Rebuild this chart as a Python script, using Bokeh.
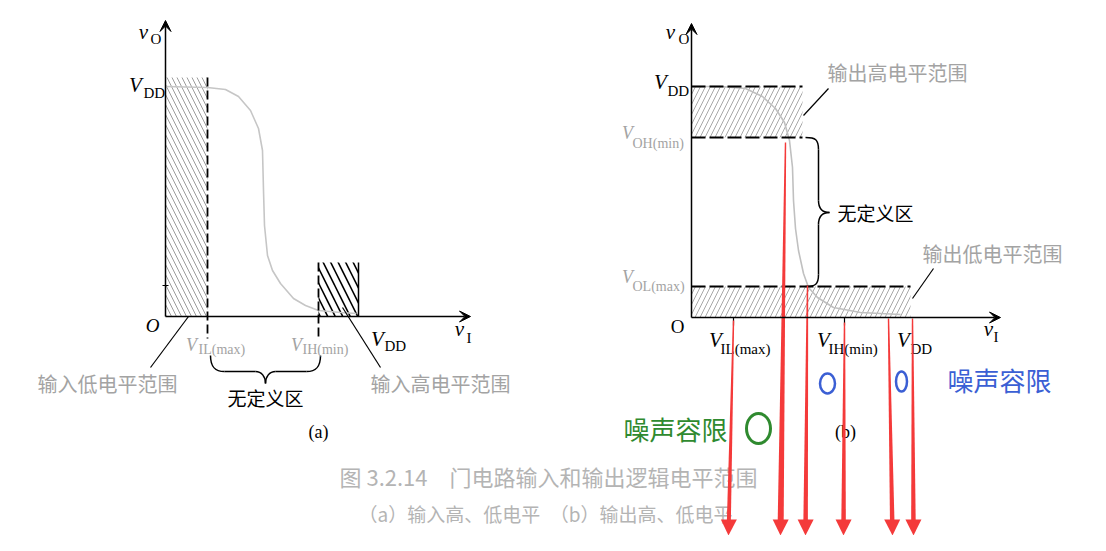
from bokeh.plotting import figure
from bokeh.models import Range1d, Arrow, VeeHead, ColumnDataSource
from bokeh.core.properties import value
from bokeh.embed import file_html
from bokeh.resources import INLINE

# ---------------- diagram data (diagram units, y grows downward) ----------------
# Panel (a): input levels
a_origin_x, a_origin_y = 165, 316
a_xaxis_end, a_yaxis_end = 470, 20
a_vdd_y = 86
a_vil_x, a_vih_x, a_vdd_x = 207, 318, 358
a_hatch_top, a_high_top, a_dash_bottom = 77, 262, 338
a_curve_x = [165, 207, 225, 238, 250, 258, 262, 263, 264, 267, 272, 280, 293, 305, 318, 340, 356]
a_curve_y = [86, 87, 89, 96, 110, 128, 150, 190, 225, 255, 270, 283, 298, 305, 310, 312, 313]
a_brace_left, a_brace_right, a_brace_top, a_brace_mid, a_brace_tip = 210, 320, 355, 371, 383
a_pointer_x0 = [188, 342]
a_pointer_y0 = [316, 307]
a_pointer_x1 = [150, 380]
a_pointer_y1 = [367, 367]

# Panel (b): output levels
b_origin_x, b_origin_y = 691, 317
b_xaxis_end, b_yaxis_end = 1000, 23
b_vdd_y, b_voh_y, b_vol_y = 86, 137, 286
b_high_right, b_low_right = 802, 910
b_ticks_x = [733, 844]
b_curve_x = [691, 720, 745, 762, 775, 784, 789, 792, 793, 795, 798, 803, 808, 817, 833, 860, 900]
b_curve_y = [86, 86, 88, 96, 108, 122, 140, 167, 200, 228, 250, 273, 287, 297, 307, 312, 314]
b_brace_left, b_brace_x, b_brace_tip_x, b_brace_tip_y = 805, 818, 829, 212
b_pointer_x0 = [828, 933]
b_pointer_y0 = [88, 268]
b_pointer_x1 = [803, 912]
b_pointer_y1 = [115, 298]

# Red annotation arrows
red_top_x = [733, 785, 807, 844, 888, 912]
red_top_y = [320, 142, 285, 322, 318, 318]
red_tip_x = [728, 780, 805, 843, 892, 913]
red_tip_y = [535, 535, 535, 535, 535, 535]
red_width = [4.0, 6.0, 4.5, 4.5, 4.5, 4.5]

# Marks drawn by hand (ellipses)
blue_ell_x = [827, 901]
blue_ell_y = [383, 381]
blue_ell_w = [15, 11]
blue_ell_h = [20, 20]
green_ell_x = [758]
green_ell_y = [428]
green_ell_w = [24]
green_ell_h = [30]

GRAY = "#a3a3a3"
SERIF = "Liberation Serif"
CJK = "Noto Sans CJK SC"

p = figure(width=1090, height=535, output_backend="svg", toolbar_location=None,
           x_range=Range1d(0, 1090), y_range=Range1d(535, 0),
           x_axis_type=None, y_axis_type=None, min_border=0,
           outline_line_color=None, background_fill_color="white",
           border_fill_color="white")
p.grid.visible = False


def txt(xs, ys, texts, size, font=SERIF, style="normal", color="black", align="center"):
    src = ColumnDataSource(dict(x=xs, y=ys, t=texts))
    p.text(x="x", y="y", text="t", source=src, text_font=value(font),
           text_font_size=value(size), text_font_style=style, text_color=color,
           text_align=align, text_baseline="middle")


def arrow(x0, y0, x1, y1):
    p.add_layout(Arrow(x_start=x0, y_start=y0, x_end=x1, y_end=y1, line_width=1.5,
                       line_color="black",
                       end=VeeHead(size=11, line_color="black", fill_color="black",
                                   line_width=1)))

# ---------------- panel (a) ----------------
p.quad(left=[a_origin_x], right=[a_vil_x], top=[a_hatch_top], bottom=[a_origin_y],
       fill_alpha=0, line_color=None, hatch_pattern="\\", hatch_scale=10,
       hatch_color="#9c9c9c", hatch_weight=1)
p.quad(left=[a_vih_x], right=[a_vdd_x], top=[a_high_top], bottom=[a_origin_y],
       fill_alpha=0, line_color=None, hatch_pattern="\\", hatch_scale=15,
       hatch_color="black", hatch_weight=1.6)
p.segment(x0=[a_vdd_x], y0=[a_high_top], x1=[a_vdd_x], y1=[a_origin_y],
          line_color="black", line_width=1.5)
p.line(a_curve_x, a_curve_y, line_color="#c6c6c6", line_width=1.6)
p.segment(x0=[a_vil_x, a_vih_x], y0=[a_hatch_top, a_high_top],
          x1=[a_vil_x, a_vih_x], y1=[a_dash_bottom, a_dash_bottom],
          line_color="black", line_width=1.8, line_dash="9 4")
p.segment(x0=[a_origin_x - 3], y0=[285], x1=[a_origin_x + 3], y1=[285],
          line_color="black", line_width=1)
arrow(a_origin_x, a_origin_y, a_origin_x, a_yaxis_end)
arrow(a_origin_x, a_origin_y, a_xaxis_end, a_origin_y)
p.segment(x0=a_pointer_x0, y0=a_pointer_y0, x1=a_pointer_x1, y1=a_pointer_y1,
          line_color="black", line_width=1.2)
# horizontal brace
L, R, T, M, K = a_brace_left, a_brace_right, a_brace_top, a_brace_mid, a_brace_tip
C = (L + R) / 2
p.bezier(x0=[L, C - 10, C, R - 14], y0=[T, M, K, M],
         x1=[L + 14, C, C + 10, R], y1=[M, K, M, T],
         cx0=[L, C - 4, C, R - 4], cy0=[T + 11, M, K - 7, M],
         cx1=[L + 4, C, C + 4, R], cy1=[M, K - 7, M, T + 11],
         line_color="black", line_width=1.5)
p.segment(x0=[L + 14, C + 10], y0=[M, M], x1=[C - 10, R - 14], y1=[M, M],
          line_color="black", line_width=1.5)

# ---------------- panel (b) ----------------
p.quad(left=[b_origin_x], right=[b_high_right], top=[b_vdd_y], bottom=[b_voh_y],
       fill_alpha=0, line_color=None, hatch_pattern="/", hatch_scale=10,
       hatch_color="#a8a8a8", hatch_weight=1)
p.quad(left=[b_origin_x], right=[b_low_right], top=[b_vol_y], bottom=[b_origin_y],
       fill_alpha=0, line_color=None, hatch_pattern="/", hatch_scale=10,
       hatch_color="#a8a8a8", hatch_weight=1)
p.line(b_curve_x, b_curve_y, line_color="#c0c0c0", line_width=1.6)
p.segment(x0=[b_origin_x] * 3, y0=[b_vdd_y, b_voh_y, b_vol_y],
          x1=[b_high_right, b_high_right, b_low_right], y1=[b_vdd_y, b_voh_y, b_vol_y],
          line_color="black", line_width=1.8, line_dash="14 4")
p.segment(x0=b_ticks_x, y0=[b_origin_y] * 2, x1=b_ticks_x, y1=[b_origin_y + 8] * 2,
          line_color="black", line_width=1.2)
arrow(b_origin_x, b_origin_y, b_origin_x, b_yaxis_end)
arrow(b_origin_x, b_origin_y, b_xaxis_end, b_origin_y)
p.segment(x0=b_pointer_x0, y0=b_pointer_y0, x1=b_pointer_x1, y1=b_pointer_y1,
          line_color="black", line_width=1.2)
# vertical brace
BL, BX, TX, TY = b_brace_left, b_brace_x, b_brace_tip_x, b_brace_tip_y
p.bezier(x0=[BL, BX, TX, BX], y0=[b_voh_y, TY - 12, TY, b_vol_y - 12],
         x1=[BX, TX, BX, BL], y1=[b_voh_y + 12, TY, TY + 12, b_vol_y],
         cx0=[BL + 10, BX, TX - 7, BX], cy0=[b_voh_y, TY - 4, TY, b_vol_y - 2],
         cx1=[BX, TX - 7, BX, BL + 10], cy1=[b_voh_y + 2, TY, TY + 4, b_vol_y],
         line_color="black", line_width=1.5)
p.segment(x0=[BX, BX], y0=[b_voh_y + 12, TY + 12], x1=[BX, BX], y1=[TY - 12, b_vol_y - 12],
          line_color="black", line_width=1.5)

# ---------------- texts ----------------
# italic main letters (black)
txt([143, 135, 459, 377, 670, 660, 988, 715, 823, 903],
    [31, 84, 328, 338, 31, 81, 328, 339, 339, 339],
    ["v", "V", "v", "V", "v", "V", "v", "V", "V", "V"], "21px", style="italic")
txt([152], [325], ["O"], "19px", style="italic")
txt([677], [326], ["O"], "19px")
# gray italic V
txt([191, 296, 627, 627], [344, 344, 132, 276], ["V", "V", "V", "V"], "18px",
    style="italic", color=GRAY)
# subscripts (black)
txt([150, 143, 466, 384, 678, 667, 993, 720, 828, 910],
    [38, 92, 337, 345, 38, 90, 336, 348, 348, 348],
    ["O", "DD", "I", "DD", "O", "DD", "I", "IL(max)", "IH(min)", "DD"],
    "15px", align="left")
# subscripts (gray)
txt([198, 302, 632, 632], [349, 349, 143, 286], ["IL(max)", "IH(min)", "OH(min)", "OL(max)"],
    "14px", align="left", color=GRAY)
# panel captions
txt([318, 845], [431, 431], ["(a)", "(b)"], "18px")
# Chinese labels
txt([265, 875], [397, 212], ["无定义区", "无定义区"], "19px", font=CJK)
txt([107, 440, 897, 992], [383, 383, 72, 253],
    ["输入低电平范围", "输入高电平范围", "输出高电平范围", "输出低电平范围"],
    "20px", font=CJK, color=GRAY)
txt([548], [475], ["图 3.2.14　门电路输入和输出逻辑电平范围"], "22px", font=CJK, color="#b4b4b4")
txt([545], [513], ["（a）输入高、低电平　（b）输出高、低电平"], "19px", font=CJK, color="#b4b4b4")
txt([999], [379], ["噪声容限"], "26px", font=CJK, color="#3b5fd4")
txt([675], [428], ["噪声容限"], "26px", font=CJK, color="#2f8a2f")

# ellipses
p.ellipse(x=blue_ell_x, y=blue_ell_y, width=blue_ell_w, height=blue_ell_h,
          fill_alpha=0, line_color="#3b5fd4", line_width=2.5)
p.ellipse(x=green_ell_x, y=green_ell_y, width=green_ell_w, height=green_ell_h,
          fill_alpha=0, line_color="#2f8a2f", line_width=3)

# red arrows (tapered shafts + heads)
shaft_xs, shaft_ys, head_xs, head_ys = [], [], [], []
for xt, yt, xb, yb, w in zip(red_top_x, red_top_y, red_tip_x, red_tip_y, red_width):
    hb = yb - 16
    xh = xt + (xb - xt) * (hb - yt) / (yb - yt)
    shaft_xs.append([xt - 0.7, xt + 0.7, xh + w / 2, xh - w / 2])
    shaft_ys.append([yt, yt, hb + 1, hb + 1])
    head_xs.append([xh - 8, xh + 8, xb])
    head_ys.append([hb, hb, yb])
p.patches(shaft_xs, shaft_ys, fill_color="#f43a3a", line_color=None)
p.patches(head_xs, head_ys, fill_color="#f43a3a", line_color=None)

open("out.html", "w").write(file_html(p, INLINE))
